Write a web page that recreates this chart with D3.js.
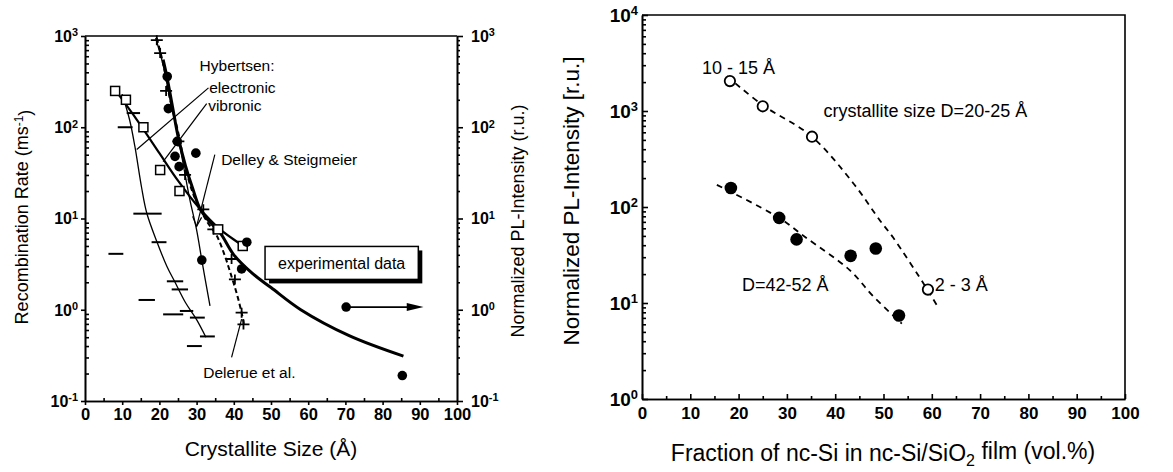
<!DOCTYPE html>
<html>
<head>
<meta charset="utf-8">
<script src="https://cdn.jsdelivr.net/npm/d3@7"></script>
<style>
  body { margin: 0; background: #fff; }
  svg { font-family: "Liberation Sans", Arial, sans-serif; }
  .axis path, .axis line { stroke: #000; stroke-width: 1.6; }
  .axis text { fill: #000; }
</style>
</head>
<body>
<script>
// ---------- left panel data (Crystallite Size vs rate / PL) ----------
var decadesL = [0.1, 1, 10, 100, 1000];
var expoL = ["-1", "0", "1", "2", "3"];
var xTicks = [0, 10, 20, 30, 40, 50, 60, 70, 80, 90, 100];

var squaresL = [[8.1, 250], [11, 200], [15.7, 100], [20.2, 34], [25.4, 20], [35.8, 7.6], [42.4, 5.0]];
var circlesL = [[22.1, 360], [22.4, 160], [24.8, 70], [24.2, 48], [25.3, 37], [29.8, 52],
                [31.4, 3.5], [43.5, 5.5], [42.1, 2.8], [85.3, 0.19]];
var crossesL = [[19.3, 900], [20.2, 650], [21.8, 250], [25.1, 70], [26.9, 30], [31.8, 12.6],
                [34.5, 7.6], [39.4, 3.6], [40.3, 2.15], [42.1, 0.93], [42.6, 0.69]];
// horizontal size bars: centre, value, half width
var barsL = [[13, 143, 1.8], [10.8, 100, 2], [16.8, 11.3, 3.8], [19.9, 5.5, 2], [8.3, 4.1, 2],
             [24.2, 2.05, 2.2], [25.5, 1.67, 2.2], [16.6, 1.28, 2.2], [23.7, 0.89, 2.7],
             [27.3, 0.97, 1.8], [30.2, 0.82, 2], [32.9, 0.51, 2], [29.4, 0.40, 2]];

var electronicL = [[10, 230], [12, 120], [13.4, 62], [15.2, 22], [16.6, 11.5], [19.3, 5.6],
                   [22, 3.0], [24.2, 2.0], [27, 1.2], [30, 0.78], [32.5, 0.5]];
var vibronicL = [[8, 260], [14, 120], [20, 52], [25, 26], [31, 12.6], [36, 7.8], [42.5, 5.0]];
var fitL = [[21, 550], [22, 360], [23.5, 170], [25, 80], [27, 38], [29, 21], [31, 12.6], [33.5, 9.2],
            [36.3, 7.0], [40, 4.0], [45, 2.5], [50, 1.75], [58, 1.0], [71, 0.52], [85.6, 0.31]];
var delerueL = [[19.3, 950], [21, 500], [23, 190], [25, 90], [27, 36], [29, 19], [31, 12.5], [33, 9],
                [35.4, 6.5], [37.5, 4], [39, 2.6], [40.8, 1.5], [42.1, 0.93], [42.7, 0.7]];
var delleyL = [[19, 950], [21, 480], [23, 190], [25, 80], [26.8, 32], [28.2, 16], [30, 7.5],
               [31.4, 3.5], [33.6, 1.1]];

// ---------- right panel data (fraction of nc-Si vs PL) ----------
var decadesR = [1, 10, 100, 1000, 10000];
var expoR = ["0", "1", "2", "3", "4"];
var openR = [[18.2, 2050], [25, 1120], [35.2, 540], [59.2, 13.8]];
var filledR = [[18.4, 158], [28.4, 77], [32, 46], [43.2, 31], [48.4, 37], [53.2, 7.4]];
var upperFitR = [[17.6, 2300], [25, 1150], [35, 550], [43.7, 178], [49.3, 72], [52, 48], [59, 14], [61.3, 9]];
var lowerFitR = [[15.5, 170], [28.4, 77], [33.7, 49], [43, 22], [47.9, 11.7], [53.8, 6.1]];

var svgW = 1173;
var svgH = 472;

var svg = d3.select("body").append("svg")
            .attr("width", svgW)
            .attr("height", svgH);

var xL = d3.scaleLinear().domain([0, 100]).range([85, 457]);
var yL = d3.scaleLog().domain([0.1, 1000]).range([401, 36]);
var xR = d3.scaleLinear().domain([0, 100]).range([642, 1125]);
var yR = d3.scaleLog().domain([1, 10000]).range([399, 15]);

function minorLog(lo, hi) {
  var out = [];
  for (var e = lo; e < hi; e++) {
    for (var k = 2; k < 10; k++) out.push(k * Math.pow(10, e));
  }
  return out;
}

function supText(g, x, y, exp, size, anchor) {
  var t = g.append("text")
           .attr("x", x).attr("y", y)
           .attr("dy", "0.36em")
           .attr("text-anchor", anchor)
           .attr("font-weight", "bold")
           .attr("font-size", size);
  t.append("tspan").text("10");
  t.append("tspan").attr("dy", "-0.5em").attr("font-size", size * 0.68).text(exp);
  return t;
}

var line = function (xs, ys) {
  return d3.line()
           .x(function (d) { return xs(d[0]); })
           .y(function (d) { return ys(d[1]); })
           .curve(d3.curveCatmullRom.alpha(0.5));
};

/*
>>>>>>>>>>>>>>>>>>>>>>>>>>>>>>>>>>>>>>>>>>>>>>>>>>>>>>>> Left panel axes
*/
var gL = svg.append("g");

gL.append("g").attr("class", "axis")
  .attr("transform", "translate(0," + yL(0.1) + ")")
  .call(d3.axisBottom(xL).tickValues(xTicks).tickSize(4).tickPadding(3).tickSizeOuter(0))
  .selectAll("text").attr("font-size", 16.5).attr("font-weight", "bold");
gL.append("g").attr("class", "axis")
  .attr("transform", "translate(0," + yL(0.1) + ")")
  .call(d3.axisBottom(xL).tickValues(d3.range(5, 100, 10)).tickSize(-3).tickFormat("").tickSizeOuter(0));

gL.append("g").attr("class", "axis")
  .attr("transform", "translate(" + xL(0) + ",0)")
  .call(d3.axisLeft(yL).tickValues(decadesL).tickSize(4).tickFormat("").tickSizeOuter(0));
gL.append("g").attr("class", "axis")
  .attr("transform", "translate(" + xL(0) + ",0)")
  .call(d3.axisLeft(yL).tickValues(minorLog(-1, 3)).tickSize(-4).tickFormat("").tickSizeOuter(0));

gL.append("g").attr("class", "axis")
  .attr("transform", "translate(" + xL(100) + ",0)")
  .call(d3.axisRight(yL).tickValues(decadesL).tickSize(6).tickFormat("").tickSizeOuter(0));
gL.append("g").attr("class", "axis")
  .attr("transform", "translate(" + xL(100) + ",0)")
  .call(d3.axisRight(yL).tickValues(minorLog(-1, 3)).tickSize(3).tickFormat("").tickSizeOuter(0));

// top frame line
gL.append("line")
  .attr("x1", xL(0)).attr("x2", xL(100))
  .attr("y1", yL(1000)).attr("y2", yL(1000))
  .attr("stroke", "#000").attr("stroke-width", 1.6);

decadesL.forEach(function (v, i) {
  supText(gL, xL(0) - 7, yL(v), expoL[i], 16, "end");
  supText(gL, xL(100) + 14, yL(v), expoL[i], 16, "start");
});

var ttl = gL.append("text")
  .attr("transform", "translate(28," + 217 + ") rotate(-90)")
  .attr("text-anchor", "middle")
  .attr("font-size", 18);
ttl.append("tspan").text("Recombination Rate (ms");
ttl.append("tspan").attr("dy", "-0.45em").attr("font-size", 12).text("-1");
ttl.append("tspan").attr("dy", "0.45em").text(")");

gL.append("text")
  .attr("transform", "translate(524,221) rotate(-90)")
  .attr("text-anchor", "middle")
  .attr("font-size", 18)
  .text("Normalized PL-Intensity (r.u.)");

gL.append("text")
  .attr("x", 271).attr("y", 456)
  .attr("text-anchor", "middle")
  .attr("font-size", 21)
  .text("Crystallite Size (\u00c5)");

/*
>>>>>>>>>>>>>>>>>>>>>>>>>>>>>>>>>>>>>>>>>>>>>>>>>>>>>>>> Left panel curves
*/
gL.append("path").datum(electronicL)
  .attr("d", line(xL, yL)).attr("fill", "none")
  .attr("stroke", "#000").attr("stroke-width", 1.3);
gL.append("path").datum(delleyL)
  .attr("d", line(xL, yL)).attr("fill", "none")
  .attr("stroke", "#000").attr("stroke-width", 1.3);
gL.append("path").datum(vibronicL)
  .attr("d", line(xL, yL)).attr("fill", "none")
  .attr("stroke", "#000").attr("stroke-width", 2.2);
gL.append("path").datum(delerueL)
  .attr("d", line(xL, yL)).attr("fill", "none")
  .attr("stroke", "#000").attr("stroke-width", 2)
  .attr("stroke-dasharray", "5,3");
gL.append("path").datum(fitL)
  .attr("d", line(xL, yL)).attr("fill", "none")
  .attr("stroke", "#000").attr("stroke-width", 3);

/*
>>>>>>>>>>>>>>>>>>>>>>>>>>>>>>>>>>>>>>>>>>>>>>>>>>>>>>>> Left panel markers
*/
gL.selectAll("line.bar").data(barsL).enter()
  .append("line").attr("class", "bar")
  .attr("x1", function (d) { return xL(d[0] - d[2]); })
  .attr("x2", function (d) { return xL(d[0] + d[2]); })
  .attr("y1", function (d) { return yL(d[1]); })
  .attr("y2", function (d) { return yL(d[1]); })
  .attr("stroke", "#000").attr("stroke-width", 2);

gL.selectAll("path.cross").data(crossesL).enter()
  .append("path").attr("class", "cross")
  .attr("d", function (d) {
    var cx = xL(d[0]), cy = yL(d[1]);
    return "M" + (cx - 6) + "," + cy + "H" + (cx + 6) + "M" + cx + "," + (cy - 5) + "V" + (cy + 5);
  })
  .attr("stroke", "#000").attr("stroke-width", 1.8);

gL.selectAll("rect.sq").data(squaresL).enter()
  .append("rect").attr("class", "sq")
  .attr("x", function (d) { return xL(d[0]) - 4.5; })
  .attr("y", function (d) { return yL(d[1]) - 4.5; })
  .attr("width", 9).attr("height", 9)
  .attr("fill", "#fff").attr("stroke", "#000").attr("stroke-width", 1.5);

gL.selectAll("circle.dot").data(circlesL).enter()
  .append("circle").attr("class", "dot")
  .attr("cx", function (d) { return xL(d[0]); })
  .attr("cy", function (d) { return yL(d[1]); })
  .attr("r", 4.8)
  .attr("fill", "#000");

/*
>>>>>>>>>>>>>>>>>>>>>>>>>>>>>>>>>>>>>>>>>>>>>>>>>>>>>>>> Left panel annotations
*/
var notesL = [
  { t: "Hybertsen:", x: 30.8, y: 470 },
  { t: "electronic", x: 33.4, y: 275 },
  { t: "vibronic", x: 33.1, y: 172 },
  { t: "Delley & Steigmeier", x: 36.6, y: 44 },
  { t: "Delerue et al.", x: 31.8, y: 0.205 }
];
gL.selectAll("text.note").data(notesL).enter()
  .append("text").attr("class", "note")
  .attr("x", function (d) { return xL(d.x); })
  .attr("y", function (d) { return yL(d.y); })
  .attr("dy", "0.35em")
  .attr("font-size", 15.5)
  .text(function (d) { return d.t; });

var pointers = [[[33.2, 270], [13.9, 57]], [[32.7, 182], [21, 42]],
                [[34.9, 50], [30, 8.2]], [[39.4, 0.30], [42.1, 0.79]]];
gL.selectAll("path.ptr").data(pointers).enter()
  .append("path").attr("class", "ptr")
  .attr("d", function (d) {
    return "M" + xL(d[0][0]) + "," + yL(d[0][1]) + "L" + xL(d[1][0]) + "," + yL(d[1][1]);
  })
  .attr("stroke", "#000").attr("stroke-width", 1.2).attr("fill", "none");

// small arrow head on Delley pointer
var tip = [xL(30), yL(8.2)];
gL.append("path")
  .attr("d", "M" + (tip[0] - 4) + "," + (tip[1] - 10) + "L" + tip[0] + "," + tip[1] + "L" + (tip[0] + 5) + "," + (tip[1] - 9))
  .attr("stroke", "#000").attr("stroke-width", 1.2).attr("fill", "none");

// "experimental data" box with shadow
var bx = xL(48.4), by = yL(4.94), bw = xL(89.6) - xL(48.4), bh = yL(2.15) - yL(4.94);
gL.append("rect")
  .attr("x", bx + 4).attr("y", by + 4).attr("width", bw).attr("height", bh)
  .attr("fill", "#000");
gL.append("rect")
  .attr("x", bx).attr("y", by).attr("width", bw).attr("height", bh)
  .attr("fill", "#fff").attr("stroke", "#000").attr("stroke-width", 1.5);
gL.append("text")
  .attr("x", bx + bw / 2).attr("y", by + bh / 2)
  .attr("dy", "0.35em")
  .attr("text-anchor", "middle")
  .attr("font-size", 16)
  .text("experimental data");

// legend: filled circle -> right axis
var ly = yL(1.07);
gL.append("line")
  .attr("x1", xL(70.2)).attr("x2", xL(88))
  .attr("y1", ly).attr("y2", ly)
  .attr("stroke", "#000").attr("stroke-width", 1.8);
gL.append("path")
  .attr("d", "M" + xL(86.5) + "," + (ly - 4) + "L" + xL(91) + "," + ly + "L" + xL(86.5) + "," + (ly + 4) + "Z")
  .attr("fill", "#000");
gL.append("circle")
  .attr("cx", xL(70.2)).attr("cy", ly).attr("r", 4.8).attr("fill", "#000");

/*
>>>>>>>>>>>>>>>>>>>>>>>>>>>>>>>>>>>>>>>>>>>>>>>>>>>>>>>> Right panel axes
*/
var gR = svg.append("g");

gR.append("g").attr("class", "axis")
  .attr("transform", "translate(0," + yR(1) + ")")
  .call(d3.axisBottom(xR).tickValues(xTicks).tickSize(-5).tickPadding(8).tickSizeOuter(0))
  .selectAll("text").attr("font-size", 17).attr("font-weight", "bold");
gR.append("g").attr("class", "axis")
  .attr("transform", "translate(0," + yR(1) + ")")
  .call(d3.axisBottom(xR).tickValues(d3.range(5, 100, 10)).tickSize(-3).tickFormat("").tickSizeOuter(0));

gR.append("g").attr("class", "axis")
  .attr("transform", "translate(" + xR(0) + ",0)")
  .call(d3.axisLeft(yR).tickValues(decadesR).tickSize(-6).tickFormat("").tickSizeOuter(0));
gR.append("g").attr("class", "axis")
  .attr("transform", "translate(" + xR(0) + ",0)")
  .call(d3.axisLeft(yR).tickValues(minorLog(0, 4)).tickSize(-4).tickFormat("").tickSizeOuter(0));

gR.append("path")
  .attr("d", "M" + xR(0) + "," + yR(10000) + "H" + xR(100) + "V" + yR(1))
  .attr("fill", "none").attr("stroke", "#000").attr("stroke-width", 1.6);

decadesR.forEach(function (v, i) {
  supText(gR, xR(0) - 4, yR(v), expoR[i], 19, "end");
});

gR.append("text")
  .attr("transform", "translate(579,201) rotate(-90)")
  .attr("text-anchor", "middle")
  .attr("font-size", 22.5)
  .text("Normalized PL-Intensity [r.u.]");

var xt = gR.append("text")
  .attr("x", 883).attr("y", 461)
  .attr("text-anchor", "middle")
  .attr("font-size", 23);
xt.append("tspan").text("Fraction of nc-Si in nc-Si/SiO");
xt.append("tspan").attr("dy", "0.3em").attr("font-size", 16).text("2");
xt.append("tspan").attr("dy", "-0.3em").text(" film (vol.%)");

/*
>>>>>>>>>>>>>>>>>>>>>>>>>>>>>>>>>>>>>>>>>>>>>>>>>>>>>>>> Right panel data
*/
[upperFitR, lowerFitR].forEach(function (s) {
  gR.append("path").datum(s)
    .attr("d", line(xR, yR)).attr("fill", "none")
    .attr("stroke", "#000").attr("stroke-width", 1.8)
    .attr("stroke-dasharray", "6,5");
});

gR.selectAll("circle.open").data(openR).enter()
  .append("circle").attr("class", "open")
  .attr("cx", function (d) { return xR(d[0]); })
  .attr("cy", function (d) { return yR(d[1]); })
  .attr("r", 5.2)
  .attr("fill", "#fff").attr("stroke", "#000").attr("stroke-width", 1.8);

gR.selectAll("circle.full").data(filledR).enter()
  .append("circle").attr("class", "full")
  .attr("cx", function (d) { return xR(d[0]); })
  .attr("cy", function (d) { return yR(d[1]); })
  .attr("r", 6.3)
  .attr("fill", "#000");

var notesR = [
  { t: "10 - 15 \u00c5", x: 12.4, y: 2800 },
  { t: "crystallite size D=20-25 \u00c5", x: 37.6, y: 1000 },
  { t: "D=42-52 \u00c5", x: 20.7, y: 15.5 },
  { t: "2 - 3 \u00c5", x: 60.6, y: 15.5 }
];
gR.selectAll("text.note").data(notesR).enter()
  .append("text").attr("class", "note")
  .attr("x", function (d) { return xR(d.x); })
  .attr("y", function (d) { return yR(d.y); })
  .attr("dy", "0.35em")
  .attr("font-size", 18)
  .text(function (d) { return d.t; });
</script>
</body>
</html>
